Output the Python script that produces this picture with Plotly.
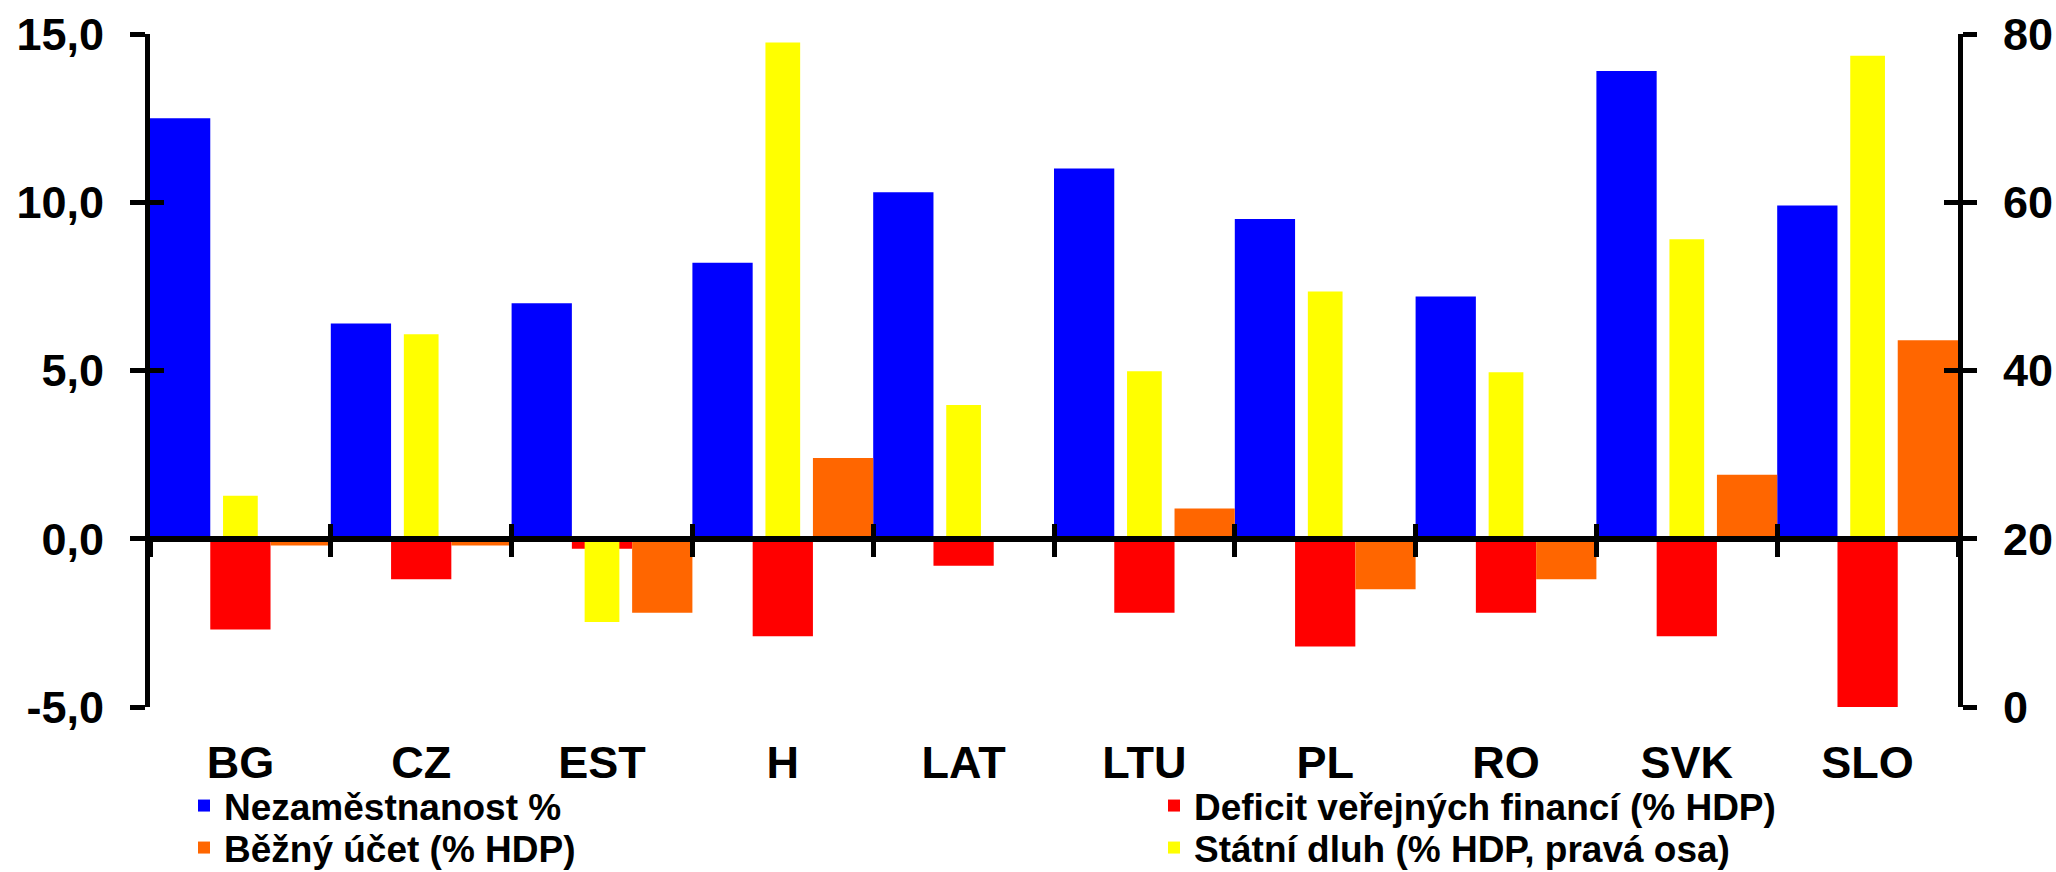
import plotly.graph_objects as go

categories = ["BG", "CZ", "EST", "H", "LAT", "LTU", "PL", "RO", "SVK", "SLO"]
unemployment = [12.5, 6.4, 7.0, 8.2, 10.3, 11.0, 9.5, 7.2, 13.9, 9.9]
deficit = [-2.7, -1.2, -0.3, -2.9, -0.8, -2.2, -3.2, -2.2, -2.9, -5.0]
current_account = [-0.2, -0.2, -2.2, 2.4, -0.1, 0.9, -1.5, -1.2, 1.9, 5.9]
public_debt = [25.1, 44.3, 10.1, 79.0, 35.9, 39.9, 49.4, 39.8, 55.6, 77.4]

names = ["Nezaměstnanost %", "Deficit veřejných financí (% HDP)",
         "Běžný účet (% HDP)", "Státní dluh (% HDP, pravá osa)"]
left_ticks = [-5, 0, 5, 10, 15]
left_labels = ["-5,0", "0,0", "5,0", "10,0", "15,0"]
right_ticks = [0, 20, 40, 60, 80]
debt_base = 20  # right-axis value level with the left-axis zero line

FONT = "Liberation Sans, Arial, sans-serif"
W3 = 1 / 3

fig = go.Figure()
fig.add_trace(go.Bar(x=categories, y=unemployment, name=names[0], marker_color="#0000FF",
                     marker_line_width=0, width=W3, offset=-0.5,
                     xaxis="x", yaxis="y", legend="legend"))
fig.add_trace(go.Bar(x=categories, y=deficit, name=names[1], marker_color="#FF0000",
                     marker_line_width=0, width=W3, offset=-0.5 + W3,
                     xaxis="x", yaxis="y3", legend="legend2"))
fig.add_trace(go.Bar(x=categories, y=current_account, name=names[2], marker_color="#FF6600",
                     marker_line_width=0, width=W3, offset=-0.5 + 2 * W3,
                     xaxis="x2", yaxis="y", legend="legend3"))
fig.add_trace(go.Bar(x=categories, y=[d - debt_base for d in public_debt], base=debt_base,
                     name=names[3], marker_color="#FFFF00",
                     marker_line_width=0, width=0.192, offset=-0.096,
                     xaxis="x3", yaxis="y2", legend="legend4"))

tickfont = dict(family=FONT, size=45, color="black", weight="bold")
legfont = dict(family=FONT, size=37, color="black", weight="bold")
noaxis = dict(showgrid=False, zeroline=False, automargin=False)
xcat = dict(type="category", range=[-0.5, 9.5], **noaxis)


def leg(x, y):
    return dict(xref="paper", yref="container", x=x, y=y, xanchor="left", yanchor="middle",
                orientation="v", font=legfont, bgcolor="rgba(0,0,0,0)", borderwidth=0)


fig.update_layout(
    width=2056, height=872,
    margin=dict(l=150, r=98, t=34, b=165, pad=0),
    paper_bgcolor="white", plot_bgcolor="white",
    barmode="overlay",
    font=dict(family=FONT, color="black"),
    xaxis=dict(showline=False, ticks="", tickfont=tickfont, ticklabelstandoff=25,
               tickangle=0, **xcat),
    xaxis2=dict(overlaying="x", anchor="free", position=0.25,
                showline=True, linewidth=6, linecolor="black",
                ticks="outside", ticklen=15, tickwidth=5, tickcolor="black",
                tickson="boundaries", showticklabels=False, **xcat),
    xaxis3=dict(overlaying="x", anchor="free", position=0.25, showline=False,
                ticks="inside", ticklen=15, tickwidth=5, tickcolor="black",
                tickson="boundaries", showticklabels=False, **xcat),
    yaxis=dict(range=[-5, 15], tickvals=left_ticks, ticktext=left_labels,
               showline=True, linewidth=5, linecolor="black",
               ticks="outside", ticklen=15, tickwidth=5, tickcolor="black",
               tickfont=tickfont, ticklabelstandoff=17, **noaxis),
    yaxis3=dict(overlaying="y", anchor="x", side="left", range=[-5, 15], tickvals=left_ticks,
                showline=False, ticks="inside", ticklen=14, tickwidth=5, tickcolor="black",
                mirror="ticks", showticklabels=False, **noaxis),
    yaxis2=dict(overlaying="y", side="right", anchor="x", range=[0, 80], tickvals=right_ticks,
                showline=True, linewidth=5, linecolor="black",
                ticks="outside", ticklen=14, tickwidth=5, tickcolor="black",
                tickfont=tickfont, ticklabelstandoff=17, **noaxis),
    legend=leg(0.0188, 1 - 806 / 872),
    legend2=leg(0.5553, 1 - 806 / 872),
    legend3=leg(0.0188, 1 - 848 / 872),
    legend4=leg(0.5553, 1 - 848 / 872),
    showlegend=True,
)

fig.write_html("out.html", config={"displayModeBar": False},
               post_script="document.body.style.margin='0';document.body.style.overflow='hidden';")
